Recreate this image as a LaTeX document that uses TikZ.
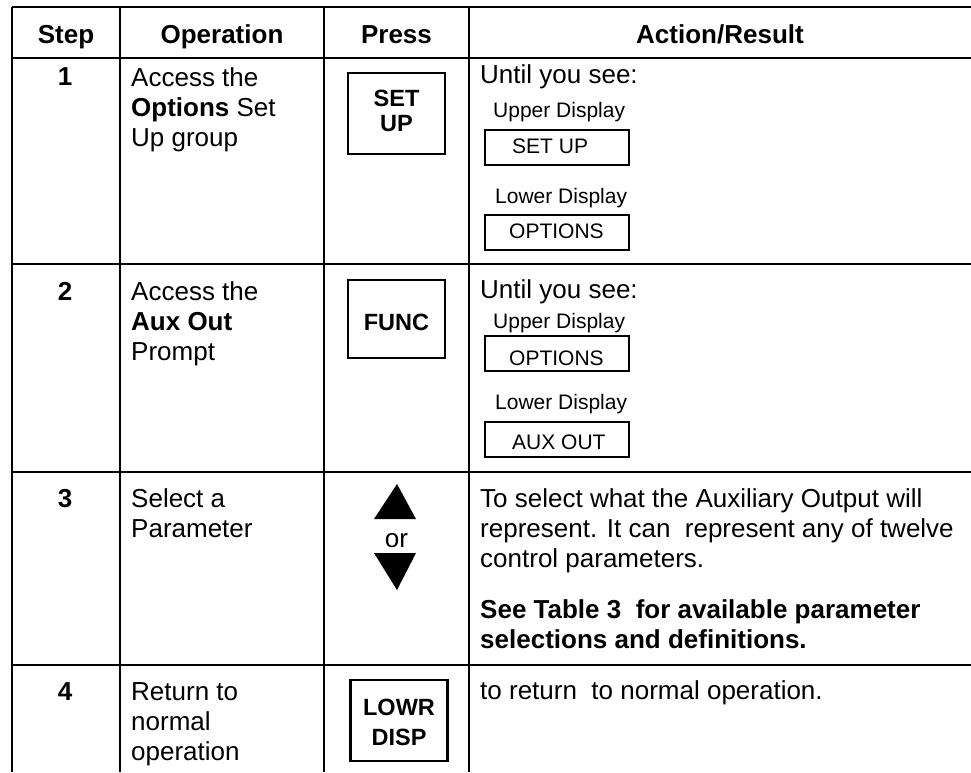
\documentclass[tikz,border=0pt]{standalone}
\usepackage{fontspec}
\setmainfont{Liberation Sans}
\begin{document}
\begin{tikzpicture}[x=1pt,y=-1pt,
  gridline/.style={line width=1.3pt},
  gridthick/.style={line width=2.3pt},
  txt/.style={inner sep=0pt, anchor=base west, align=left, font=\fontsize{26}{30}\selectfont},
  hdr/.style={inner sep=0pt, anchor=base, font=\fontsize{26}{30}\selectfont\bfseries},
  num/.style={inner sep=0pt, anchor=base, font=\fontsize{26}{30}\selectfont\bfseries},
  small/.style={inner sep=0pt, anchor=base west, font=\fontsize{21}{25}\selectfont},
  btn/.style={draw, line width=2.5pt, inner sep=0pt, minimum width=97pt},
  btntxt/.style={inner sep=0pt, anchor=base, align=center, font=\fontsize{23.5}{25}\selectfont\bfseries},
  disp/.style={draw, line width=2pt, inner sep=0pt, minimum width=144pt, minimum height=35pt},
  tri/.style={fill=black}]
\useasboundingbox (0,0) rectangle (971,772);

% grid
\foreach \yy in {7,58,264,472,665}{\draw[gridline] (12,\yy) -- (971,\yy);}
\foreach \xx in {12,120,324,469}{\draw[gridline] (\xx,7) -- (\xx,772);}
\draw[gridthick] (12,264) rectangle (324,472);
\draw[gridthick] (120,264) -- (120,472);

% header
\node[hdr] (hstep) at (66,43) {Step};
\node[hdr] (hop) at (222,43) {Operation};
\node[hdr] (hpress) at (396.5,43) {Press};
\node[hdr] (hact) at (720,43) {Action/Result};

% row 1 (multi-line nodes are anchored at the baseline of their last line)
\node[num] (n1) at (65,85) {1};
\node[txt] (op1) at (131,146) {Access the\\\textbf{Options} Set\\Up group};
\node[btn, minimum height=81pt] (b1) at (396.5,113.5) {};
\node[btntxt] (b1t) at (396.5,131) {SET\\UP};
\node[txt] (r1a) at (480,83) {Until you see:};
\node[small] (r1u) at (493,117) {Upper Display};
\node[disp] (d1) at (557,147) {};
\node[small] (d1t) at (512,153) {SET UP};
\node[small] (r1l) at (495,203) {Lower Display};
\node[disp] (d2) at (557,232) {};
\node[small] (d2t) at (509,238) {OPTIONS};

% row 2
\node[num] (n2) at (65,300) {2};
\node[txt] (op2) at (131,360) {Access the\\\textbf{Aux Out}\\Prompt};
\node[btn, minimum height=78pt] (b2) at (396.5,319) {};
\node[btntxt] (b2t) at (396.5,330) {FUNC};
\node[txt] (r2a) at (480,298) {Until you see:};
\node[small] (r2u) at (493,328) {Upper Display};
\node[disp] (d3) at (557,353.5) {};
\node[small] (d3t) at (509,365) {OPTIONS};
\node[small] (r2l) at (495,409) {Lower Display};
\node[disp] (d4) at (557,439.5) {};
\node[small] (d4t) at (512,449) {AUX OUT};

% row 3
\node[num] (n3) at (65,507) {3};
\node[txt] (op3) at (131,537) {Select a\\Parameter};
\fill[tri] (374,519) -- (416,519) -- (397,484) -- cycle;
\node[inner sep=0pt, anchor=base, font=\fontsize{26}{30}\selectfont] (or) at (396.5,547) {or};
\fill[tri] (374,553) -- (416,553) -- (397,590) -- cycle;
\node[txt] (r3a) at (480,567) {To select what the Auxiliary Output will\\represent. It can\ \ represent any of twelve\\control parameters.};
\node[txt, font=\fontsize{26}{30}\selectfont\bfseries] (r3b) at (480,648) {See Table 3\ \ for available parameter\\selections and definitions.};

% row 4
\node[num] (n4) at (65,700) {4};
\node[txt] (op4) at (131,760) {Return to\\normal\\operation};
\node[btn, minimum height=81pt] (b4) at (399,720.5) {};
\node[btntxt, font=\fontsize{23.5}{30}\selectfont\bfseries] (b4t) at (399,745) {LOWR\\DISP};
\node[txt] (r4a) at (480,699) {to return\ \ to normal operation.};
\end{tikzpicture}
\end{document}
